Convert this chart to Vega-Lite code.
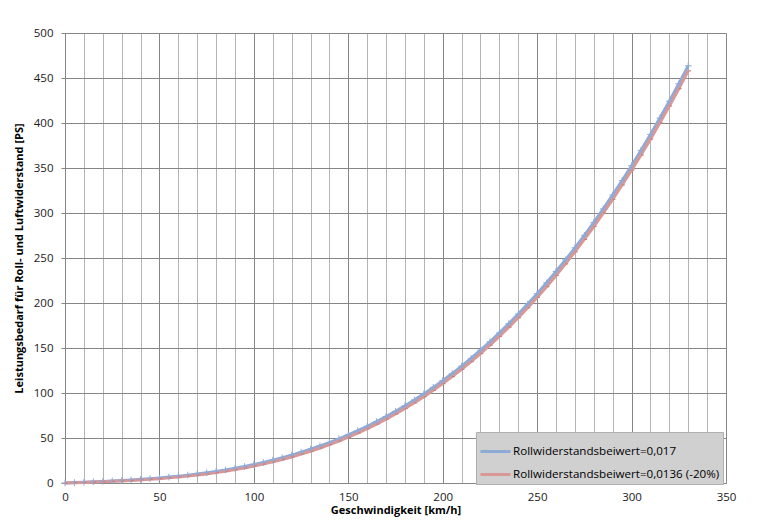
{
  "$schema": "https://vega.github.io/schema/vega-lite/v6.json",
  "width": 661,
  "height": 450,
  "autosize": {"type": "none"},
  "padding": {"left": 65, "top": 33, "right": 35, "bottom": 48},
  "background": "white",
  "config": {
    "font": "Open Sans",
    "view": {"stroke": null},
    "axis": {"labelFont": "Open Sans", "titleFont": "Open Sans", "labelFlush": false}
  },
  "datasets": {
    "pts": [
      {"v":0,"P":0,"s":"Rollwiderstandsbeiwert=0,017"},
      {"v":5,"P":0.42,"s":"Rollwiderstandsbeiwert=0,017"},
      {"v":10,"P":0.85,"s":"Rollwiderstandsbeiwert=0,017"},
      {"v":15,"P":1.29,"s":"Rollwiderstandsbeiwert=0,017"},
      {"v":20,"P":1.76,"s":"Rollwiderstandsbeiwert=0,017"},
      {"v":25,"P":2.27,"s":"Rollwiderstandsbeiwert=0,017"},
      {"v":30,"P":2.83,"s":"Rollwiderstandsbeiwert=0,017"},
      {"v":35,"P":3.44,"s":"Rollwiderstandsbeiwert=0,017"},
      {"v":40,"P":4.11,"s":"Rollwiderstandsbeiwert=0,017"},
      {"v":45,"P":4.86,"s":"Rollwiderstandsbeiwert=0,017"},
      {"v":50,"P":5.68,"s":"Rollwiderstandsbeiwert=0,017"},
      {"v":55,"P":6.60,"s":"Rollwiderstandsbeiwert=0,017"},
      {"v":60,"P":7.62,"s":"Rollwiderstandsbeiwert=0,017"},
      {"v":65,"P":8.75,"s":"Rollwiderstandsbeiwert=0,017"},
      {"v":70,"P":9.99,"s":"Rollwiderstandsbeiwert=0,017"},
      {"v":75,"P":11.37,"s":"Rollwiderstandsbeiwert=0,017"},
      {"v":80,"P":12.88,"s":"Rollwiderstandsbeiwert=0,017"},
      {"v":85,"P":14.53,"s":"Rollwiderstandsbeiwert=0,017"},
      {"v":90,"P":16.34,"s":"Rollwiderstandsbeiwert=0,017"},
      {"v":95,"P":18.32,"s":"Rollwiderstandsbeiwert=0,017"},
      {"v":100,"P":20.46,"s":"Rollwiderstandsbeiwert=0,017"},
      {"v":105,"P":22.79,"s":"Rollwiderstandsbeiwert=0,017"},
      {"v":110,"P":25.32,"s":"Rollwiderstandsbeiwert=0,017"},
      {"v":115,"P":28.03,"s":"Rollwiderstandsbeiwert=0,017"},
      {"v":120,"P":30.96,"s":"Rollwiderstandsbeiwert=0,017"},
      {"v":125,"P":34.12,"s":"Rollwiderstandsbeiwert=0,017"},
      {"v":130,"P":37.48,"s":"Rollwiderstandsbeiwert=0,017"},
      {"v":135,"P":41.10,"s":"Rollwiderstandsbeiwert=0,017"},
      {"v":140,"P":44.96,"s":"Rollwiderstandsbeiwert=0,017"},
      {"v":145,"P":49.07,"s":"Rollwiderstandsbeiwert=0,017"},
      {"v":150,"P":53.45,"s":"Rollwiderstandsbeiwert=0,017"},
      {"v":155,"P":58.10,"s":"Rollwiderstandsbeiwert=0,017"},
      {"v":160,"P":63.02,"s":"Rollwiderstandsbeiwert=0,017"},
      {"v":165,"P":68.25,"s":"Rollwiderstandsbeiwert=0,017"},
      {"v":170,"P":73.77,"s":"Rollwiderstandsbeiwert=0,017"},
      {"v":175,"P":79.60,"s":"Rollwiderstandsbeiwert=0,017"},
      {"v":180,"P":85.75,"s":"Rollwiderstandsbeiwert=0,017"},
      {"v":185,"P":92.24,"s":"Rollwiderstandsbeiwert=0,017"},
      {"v":190,"P":99.04,"s":"Rollwiderstandsbeiwert=0,017"},
      {"v":195,"P":106.21,"s":"Rollwiderstandsbeiwert=0,017"},
      {"v":200,"P":113.73,"s":"Rollwiderstandsbeiwert=0,017"},
      {"v":205,"P":121.60,"s":"Rollwiderstandsbeiwert=0,017"},
      {"v":210,"P":129.85,"s":"Rollwiderstandsbeiwert=0,017"},
      {"v":215,"P":138.49,"s":"Rollwiderstandsbeiwert=0,017"},
      {"v":220,"P":147.51,"s":"Rollwiderstandsbeiwert=0,017"},
      {"v":225,"P":156.94,"s":"Rollwiderstandsbeiwert=0,017"},
      {"v":230,"P":166.78,"s":"Rollwiderstandsbeiwert=0,017"},
      {"v":235,"P":177.03,"s":"Rollwiderstandsbeiwert=0,017"},
      {"v":240,"P":187.71,"s":"Rollwiderstandsbeiwert=0,017"},
      {"v":245,"P":198.84,"s":"Rollwiderstandsbeiwert=0,017"},
      {"v":250,"P":210.39,"s":"Rollwiderstandsbeiwert=0,017"},
      {"v":255,"P":222.42,"s":"Rollwiderstandsbeiwert=0,017"},
      {"v":260,"P":234.90,"s":"Rollwiderstandsbeiwert=0,017"},
      {"v":265,"P":247.85,"s":"Rollwiderstandsbeiwert=0,017"},
      {"v":270,"P":261.29,"s":"Rollwiderstandsbeiwert=0,017"},
      {"v":275,"P":275.23,"s":"Rollwiderstandsbeiwert=0,017"},
      {"v":280,"P":289.65,"s":"Rollwiderstandsbeiwert=0,017"},
      {"v":285,"P":304.60,"s":"Rollwiderstandsbeiwert=0,017"},
      {"v":290,"P":320.06,"s":"Rollwiderstandsbeiwert=0,017"},
      {"v":295,"P":336.04,"s":"Rollwiderstandsbeiwert=0,017"},
      {"v":300,"P":352.56,"s":"Rollwiderstandsbeiwert=0,017"},
      {"v":305,"P":369.64,"s":"Rollwiderstandsbeiwert=0,017"},
      {"v":310,"P":387.26,"s":"Rollwiderstandsbeiwert=0,017"},
      {"v":315,"P":405.45,"s":"Rollwiderstandsbeiwert=0,017"},
      {"v":320,"P":424.21,"s":"Rollwiderstandsbeiwert=0,017"},
      {"v":325,"P":443.55,"s":"Rollwiderstandsbeiwert=0,017"},
      {"v":330,"P":463.49,"s":"Rollwiderstandsbeiwert=0,017"},
      {"v":0,"P":0,"s":"Rollwiderstandsbeiwert=0,0136 (-20%)"},
      {"v":5,"P":0.33,"s":"Rollwiderstandsbeiwert=0,0136 (-20%)"},
      {"v":10,"P":0.68,"s":"Rollwiderstandsbeiwert=0,0136 (-20%)"},
      {"v":15,"P":1.04,"s":"Rollwiderstandsbeiwert=0,0136 (-20%)"},
      {"v":20,"P":1.43,"s":"Rollwiderstandsbeiwert=0,0136 (-20%)"},
      {"v":25,"P":1.86,"s":"Rollwiderstandsbeiwert=0,0136 (-20%)"},
      {"v":30,"P":2.33,"s":"Rollwiderstandsbeiwert=0,0136 (-20%)"},
      {"v":35,"P":2.85,"s":"Rollwiderstandsbeiwert=0,0136 (-20%)"},
      {"v":40,"P":3.45,"s":"Rollwiderstandsbeiwert=0,0136 (-20%)"},
      {"v":45,"P":4.11,"s":"Rollwiderstandsbeiwert=0,0136 (-20%)"},
      {"v":50,"P":4.85,"s":"Rollwiderstandsbeiwert=0,0136 (-20%)"},
      {"v":55,"P":5.69,"s":"Rollwiderstandsbeiwert=0,0136 (-20%)"},
      {"v":60,"P":6.62,"s":"Rollwiderstandsbeiwert=0,0136 (-20%)"},
      {"v":65,"P":7.66,"s":"Rollwiderstandsbeiwert=0,0136 (-20%)"},
      {"v":70,"P":8.83,"s":"Rollwiderstandsbeiwert=0,0136 (-20%)"},
      {"v":75,"P":10.12,"s":"Rollwiderstandsbeiwert=0,0136 (-20%)"},
      {"v":80,"P":11.54,"s":"Rollwiderstandsbeiwert=0,0136 (-20%)"},
      {"v":85,"P":13.12,"s":"Rollwiderstandsbeiwert=0,0136 (-20%)"},
      {"v":90,"P":14.84,"s":"Rollwiderstandsbeiwert=0,0136 (-20%)"},
      {"v":95,"P":16.73,"s":"Rollwiderstandsbeiwert=0,0136 (-20%)"},
      {"v":100,"P":18.80,"s":"Rollwiderstandsbeiwert=0,0136 (-20%)"},
      {"v":105,"P":21.04,"s":"Rollwiderstandsbeiwert=0,0136 (-20%)"},
      {"v":110,"P":23.48,"s":"Rollwiderstandsbeiwert=0,0136 (-20%)"},
      {"v":115,"P":26.12,"s":"Rollwiderstandsbeiwert=0,0136 (-20%)"},
      {"v":120,"P":28.96,"s":"Rollwiderstandsbeiwert=0,0136 (-20%)"},
      {"v":125,"P":32.03,"s":"Rollwiderstandsbeiwert=0,0136 (-20%)"},
      {"v":130,"P":35.32,"s":"Rollwiderstandsbeiwert=0,0136 (-20%)"},
      {"v":135,"P":38.85,"s":"Rollwiderstandsbeiwert=0,0136 (-20%)"},
      {"v":140,"P":42.62,"s":"Rollwiderstandsbeiwert=0,0136 (-20%)"},
      {"v":145,"P":46.66,"s":"Rollwiderstandsbeiwert=0,0136 (-20%)"},
      {"v":150,"P":50.95,"s":"Rollwiderstandsbeiwert=0,0136 (-20%)"},
      {"v":155,"P":55.51,"s":"Rollwiderstandsbeiwert=0,0136 (-20%)"},
      {"v":160,"P":60.36,"s":"Rollwiderstandsbeiwert=0,0136 (-20%)"},
      {"v":165,"P":65.50,"s":"Rollwiderstandsbeiwert=0,0136 (-20%)"},
      {"v":170,"P":70.93,"s":"Rollwiderstandsbeiwert=0,0136 (-20%)"},
      {"v":175,"P":76.69,"s":"Rollwiderstandsbeiwert=0,0136 (-20%)"},
      {"v":180,"P":82.75,"s":"Rollwiderstandsbeiwert=0,0136 (-20%)"},
      {"v":185,"P":89.15,"s":"Rollwiderstandsbeiwert=0,0136 (-20%)"},
      {"v":190,"P":95.88,"s":"Rollwiderstandsbeiwert=0,0136 (-20%)"},
      {"v":195,"P":102.96,"s":"Rollwiderstandsbeiwert=0,0136 (-20%)"},
      {"v":200,"P":110.39,"s":"Rollwiderstandsbeiwert=0,0136 (-20%)"},
      {"v":205,"P":118.19,"s":"Rollwiderstandsbeiwert=0,0136 (-20%)"},
      {"v":210,"P":126.35,"s":"Rollwiderstandsbeiwert=0,0136 (-20%)"},
      {"v":215,"P":134.90,"s":"Rollwiderstandsbeiwert=0,0136 (-20%)"},
      {"v":220,"P":143.85,"s":"Rollwiderstandsbeiwert=0,0136 (-20%)"},
      {"v":225,"P":153.19,"s":"Rollwiderstandsbeiwert=0,0136 (-20%)"},
      {"v":230,"P":162.94,"s":"Rollwiderstandsbeiwert=0,0136 (-20%)"},
      {"v":235,"P":173.12,"s":"Rollwiderstandsbeiwert=0,0136 (-20%)"},
      {"v":240,"P":183.71,"s":"Rollwiderstandsbeiwert=0,0136 (-20%)"},
      {"v":245,"P":194.75,"s":"Rollwiderstandsbeiwert=0,0136 (-20%)"},
      {"v":250,"P":206.23,"s":"Rollwiderstandsbeiwert=0,0136 (-20%)"},
      {"v":255,"P":218.17,"s":"Rollwiderstandsbeiwert=0,0136 (-20%)"},
      {"v":260,"P":230.56,"s":"Rollwiderstandsbeiwert=0,0136 (-20%)"},
      {"v":265,"P":243.44,"s":"Rollwiderstandsbeiwert=0,0136 (-20%)"},
      {"v":270,"P":256.79,"s":"Rollwiderstandsbeiwert=0,0136 (-20%)"},
      {"v":275,"P":270.64,"s":"Rollwiderstandsbeiwert=0,0136 (-20%)"},
      {"v":280,"P":284.99,"s":"Rollwiderstandsbeiwert=0,0136 (-20%)"},
      {"v":285,"P":299.85,"s":"Rollwiderstandsbeiwert=0,0136 (-20%)"},
      {"v":290,"P":315.22,"s":"Rollwiderstandsbeiwert=0,0136 (-20%)"},
      {"v":295,"P":331.13,"s":"Rollwiderstandsbeiwert=0,0136 (-20%)"},
      {"v":300,"P":347.56,"s":"Rollwiderstandsbeiwert=0,0136 (-20%)"},
      {"v":305,"P":364.55,"s":"Rollwiderstandsbeiwert=0,0136 (-20%)"},
      {"v":310,"P":382.10,"s":"Rollwiderstandsbeiwert=0,0136 (-20%)"},
      {"v":315,"P":400.20,"s":"Rollwiderstandsbeiwert=0,0136 (-20%)"},
      {"v":320,"P":418.87,"s":"Rollwiderstandsbeiwert=0,0136 (-20%)"},
      {"v":325,"P":438.14,"s":"Rollwiderstandsbeiwert=0,0136 (-20%)"},
      {"v":330,"P":457.99,"s":"Rollwiderstandsbeiwert=0,0136 (-20%)"}
    ]
  },
  "data": {"name": "pts"},
  "encoding": {
    "x": {
      "field": "v", "type": "quantitative",
      "scale": {"domain": [0, 350], "nice": false},
      "axis": {
        "title": "Geschwindigkeit [km/h]",
        "titleFontSize": 11, "titleFontWeight": "bold", "titleColor": "#000",
        "titlePadding": 2,
        "values": [0,10,20,30,40,50,60,70,80,90,100,110,120,130,140,150,160,170,180,190,200,210,220,230,240,250,260,270,280,290,300,310,320,330,340,350],
        "labelExpr": "datum.value % 50 === 0 ? datum.label : ''",
        "labelFontSize": 11.5, "labelColor": "#1a1a1a", "labelPadding": 8,
        "labelFlush": false,
        "ticks": false,
        "domainColor": "#868686",
        "grid": true,
        "gridColor": {"condition": {"test": "datum.value % 50 === 0", "value": "#868686"}, "value": "#b4b4b4"},
        "gridWidth": 1
      }
    },
    "y": {
      "field": "P", "type": "quantitative",
      "scale": {"domain": [0, 500], "nice": false},
      "axis": {
        "title": "Leistungsbedarf für Roll- und Luftwiderstand [PS]",
        "titleFontSize": 11, "titleFontWeight": "bold", "titleColor": "#000",
        "titlePadding": 9,
        "values": [0,50,100,150,200,250,300,350,400,450,500],
        "labelFontSize": 11.5, "labelColor": "#1a1a1a", "labelPadding": 8,
        "labelFlush": false,
        "ticks": true, "tickSize": 4, "tickColor": "#868686",
        "domainColor": "#868686",
        "grid": true, "gridColor": "#868686"
      }
    }
  },
  "layer": [
    {
      "mark": {"type": "line", "strokeWidth": 3, "strokeCap": "butt"},
      "encoding": {
        "color": {
          "field": "s", "type": "nominal",
          "scale": {
            "domain": ["Rollwiderstandsbeiwert=0,017", "Rollwiderstandsbeiwert=0,0136 (-20%)"],
            "range": ["#8eaad6", "#d99795"]
          },
          "legend": {
            "title": null,
            "orient": "none",
            "legendX": 411,
            "legendY": 399,
            "fillColor": "#d0d0d0",
            "strokeColor": "#b0b0b0",
            "padding": 3,
            "symbolType": "stroke",
            "symbolSize": 900,
            "symbolStrokeWidth": 3,
            "labelFontSize": 11.6,
            "labelColor": "#000",
            "labelOffset": 1,
            "rowPadding": -6,
            "labelLimit": 300
          }
        }
      }
    },
    {
      "transform": [{"filter": "datum.s === 'Rollwiderstandsbeiwert=0,017'"}],
      "mark": {"type": "point", "shape": "M-1,0H1M0,-1V1", "size": 45, "filled": false, "stroke": "#8eaad6", "strokeWidth": 1, "opacity": 1}
    },
    {
      "transform": [{"filter": "datum.s !== 'Rollwiderstandsbeiwert=0,017'"}],
      "mark": {"type": "point", "shape": "M0,0H1", "size": 30, "filled": false, "stroke": "#c9807e", "strokeWidth": 1.2, "opacity": 1}
    }
  ]
}
